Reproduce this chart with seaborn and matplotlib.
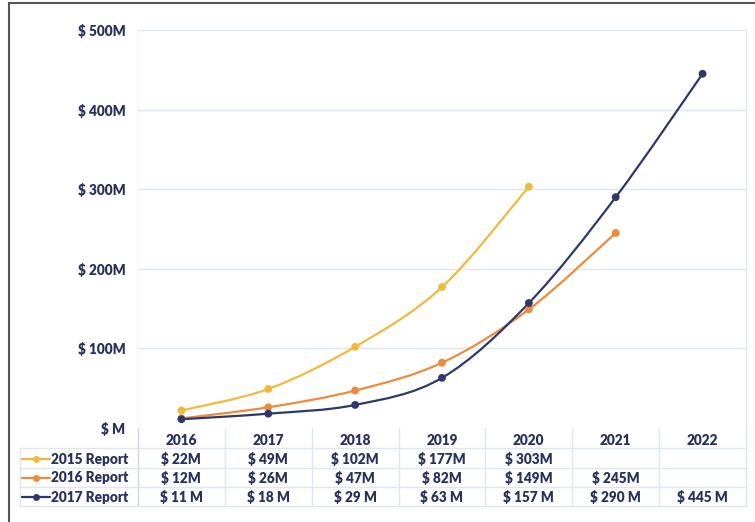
import numpy as np
import pandas as pd
import seaborn as sns
import matplotlib
matplotlib.use("Agg")
import matplotlib.pyplot as plt
from matplotlib.path import Path
from matplotlib.patches import PathPatch, Rectangle
from matplotlib.lines import Line2D
from matplotlib.transforms import blended_transform_factory

# ---- data ----
years = ["2016", "2017", "2018", "2019", "2020", "2021", "2022"]
report_2015 = [22, 49, 102, 177, 303]
report_2016 = [12, 26, 47, 82, 149, 245]
report_2017 = [11, 18, 29, 63, 157, 290, 445]
series_names = ["2015 Report", "2016 Report", "2017 Report"]
y_ticks = [0, 100, 200, 300, 400, 500]
y_tick_labels = ["$ M", "$ 100M", "$ 200M", "$ 300M", "$ 400M", "$ 500M"]

colors = ["#F4B83C", "#EE8B3B", "#2E386C"]
text_color = "#29315F"
grid_color = "#DDE7F2"
label_fmt = ["$ {}M", "$ {}M", "$ {} M"]
FS = 9.8
FW = "heavy"

sns.set_theme(style="white")
plt.rcParams["font.family"] = ["Lato", "DejaVu Sans"]
plt.rcParams["font.weight"] = FW

W, H = 755, 522
fig = plt.figure(figsize=(W / 100, H / 100), dpi=100)
fig.patch.set_facecolor("white")


def fx(px):
    return px / W


def fy(py):
    return 1 - py / H


left, right, top, bottom = 138, 746, 30, 428
ax = fig.add_axes([fx(left), fy(bottom), fx(right) - fx(left), fy(top) - fy(bottom)])

rows = []
for name, vals in zip(series_names, [report_2015, report_2016, report_2017]):
    for i, v in enumerate(vals):
        rows.append({"series": name, "idx": i, "value": v})
df = pd.DataFrame(rows)


def smooth_path(xs, ys, k=1 / 6):
    pts = np.column_stack([xs, ys]).astype(float)
    n = len(pts)
    verts = [pts[0]]
    codes = [Path.MOVETO]
    for i in range(n - 1):
        p0 = pts[i - 1] if i > 0 else pts[i]
        p1 = pts[i]
        p2 = pts[i + 1]
        p3 = pts[i + 2] if i + 2 < n else pts[i + 1]
        c1 = p1 + (p2 - p0) * k
        c2 = p2 - (p3 - p1) * k
        verts += [c1, c2, p2]
        codes += [Path.CURVE4] * 3
    return Path(verts, codes)


for name, col in zip(series_names, colors):
    sub = df[df.series == name]
    patch = PathPatch(smooth_path(sub.idx.values, sub.value.values),
                      facecolor="none", edgecolor=col, lw=1.6, zorder=3)
    ax.add_patch(patch)

sns.scatterplot(data=df, x="idx", y="value", hue="series", palette=colors,
                s=32, edgecolor="none", legend=False, ax=ax, zorder=4)

ax.set_xlim(-0.5, 6.5)
ax.set_ylim(0, 500)
ax.set_xlabel("")
ax.set_ylabel("")
ax.set_yticks(y_ticks)
ax.set_yticklabels(y_tick_labels)
ax.set_xticks(range(len(years)))
ax.set_xticklabels(years)
ax.tick_params(axis="both", length=0, colors=text_color, labelsize=FS)
ax.tick_params(axis="y", pad=9)
ax.tick_params(axis="x", pad=4)
for lab in ax.get_xticklabels() + ax.get_yticklabels():
    lab.set_fontweight(FW)
    lab.set_color(text_color)

for y in y_ticks[1:]:
    ax.axhline(y, color=grid_color, lw=1, zorder=0)
for s in ax.spines.values():
    s.set_visible(False)

# vertical category separators, running through the data table
table_bottom = 506
line_kw = dict(color=grid_color, lw=1, transform=fig.transFigure, zorder=0)
for b in range(len(years) + 1):
    xd = b - 0.5
    xpx = ax.transData.transform((xd, 0))[0]
    col = "#C9D8EC" if b == 0 else grid_color
    fig.add_artist(Line2D([xpx / W, xpx / W], [fy(top), fy(table_bottom)],
                          color=col, lw=1, transform=fig.transFigure, zorder=0))

# data table rows
row_lines = [448, 468, 487, 506]
for yl in row_lines:
    fig.add_artist(Line2D([fx(20), fx(right)], [fy(yl), fy(yl)], **line_kw))
fig.add_artist(Line2D([fx(20), fx(20)], [fy(448), fy(506)], **line_kw))

trans = blended_transform_factory(ax.transData, fig.transFigure)
row_y = [459, 478, 497]
all_vals = [report_2015, report_2016, report_2017]
for r, (name, col, vals, fmt) in enumerate(zip(series_names, colors, all_vals, label_fmt)):
    yy = fy(row_y[r])
    fig.add_artist(Line2D([fx(22), fx(50)], [yy, yy], color=col, lw=1.6,
                          transform=fig.transFigure))
    fig.add_artist(Line2D([fx(36)], [yy], color=col, marker="o", markersize=5,
                          markeredgewidth=0, transform=fig.transFigure))
    fig.text(fx(51), yy, name, ha="left", va="center", fontsize=FS,
             fontweight=FW, color=text_color)
    for i, v in enumerate(vals):
        ax.text(i, yy, fmt.format(v), transform=trans, ha="center", va="center",
                fontsize=FS, fontweight=FW, color=text_color)

# outer frame
fig.add_artist(Rectangle((fx(9), -0.1), 1.2, fy(3) + 0.1, fill=False,
                         edgecolor="#555555", lw=1.5, transform=fig.transFigure))

fig.savefig("out.png", dpi=100, facecolor="white")
